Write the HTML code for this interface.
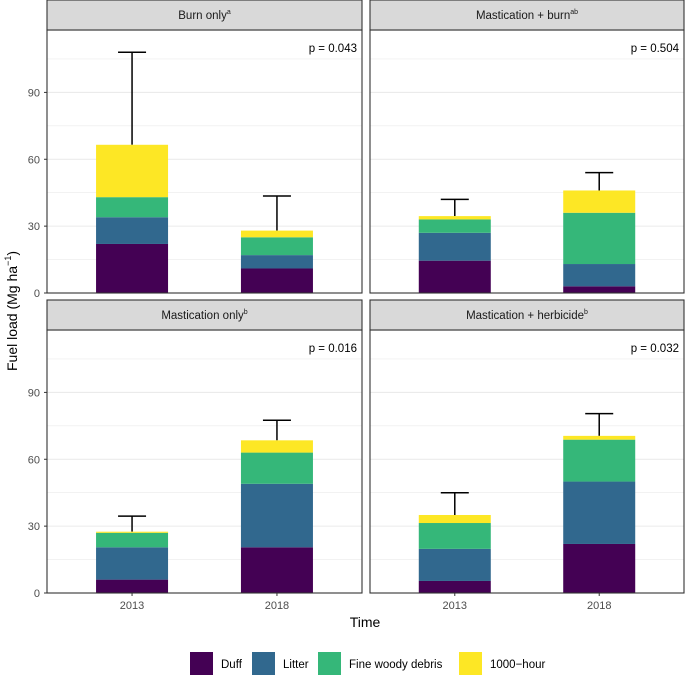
<!DOCTYPE html>
<html><head><meta charset="utf-8"><style>
body{margin:0;background:#fff}
svg{display:block;font-family:"Liberation Sans",Arial,sans-serif}
</style></head><body>
<svg id="c" width="685" height="685" viewBox="0 0 685 685"></svg>
<script>
const panels = ["Burn only","Mastication + burn","Mastication only","Mastication + herbicide"];
const panelSup = ["a","ab","b","b"];
const pValues = ["p = 0.043","p = 0.504","p = 0.016","p = 0.032"];
const years = ["2013","2018"];
const components = ["Duff","Litter","Fine woody debris","1000\u2212hour"];
const duff = [[22,11],[14.5,3],[6,20.5],[5.4,22]];
const litter = [[12,6],[12.5,10],[14.5,28.5],[14.4,28]];
const fwd = [[9,8],[6,23],[6.5,14],[11.6,18.8]];
const thousandHour = [[23.5,3],[1.5,10],[0.5,5.5],[3.6,1.7]];
const errTop = [[108,43.5],[42,54],[34.5,77.5],[45,80.5]];
const majorTicks = [0,30,60,90];
const minorTicks = [15,45,75,105];
const colors = ["#440154","#31688E","#35B779","#FDE725"];
const NS="http://www.w3.org/2000/svg";
const svg=document.getElementById('c');
function mk(t,a,p){const e=document.createElementNS(NS,t);for(const k in a)e.setAttribute(k,a[k]);(p||svg).appendChild(e);return e;}
const layout=[{x0:47,x1:362,s0:0,p0:30,p1:293},{x0:370,x1:684,s0:0,p0:30,p1:293},{x0:47,x1:362,s0:300,p0:330,p1:593},{x0:370,x1:684,s0:300,p0:330,p1:593}];
const yMax=118;
panels.forEach((name,i)=>{
  const L=layout[i];
  const g=mk('g',{});
  
  
  const y=v=>L.p1-v/yMax*(L.p1-L.p0);
  const xc=j=>L.x0+(L.x1-L.x0)*(j===0?0.27:0.73);
  minorTicks.forEach(t=>{const l=mk('line',{x1:L.x0,x2:L.x1,y1:y(t),y2:y(t),stroke:'#ebebeb','stroke-width':0.6},g);});
  majorTicks.forEach(t=>{const l=mk('line',{x1:L.x0,x2:L.x1,y1:y(t),y2:y(t),stroke:'#ebebeb','stroke-width':1.1},g);
    if(i%2===0){
    const tx=mk('text',{x:L.x0-7,y:y(t)+4,'text-anchor':'end','font-size':11,fill:'#4d4d4d'},g);tx.textContent=t;
    const tk=mk('line',{x1:L.x0-3,x2:L.x0,y1:y(t),y2:y(t),stroke:'#333','stroke-width':1},g);}});
  years.forEach((yr,j)=>{
    const vals=[duff[i][j],litter[i][j],fwd[i][j],thousandHour[i][j]];
    let cum=0;const bw=72;
    const tot=vals.reduce((a,b)=>a+b,0);
    const e=mk('line',{x1:xc(j),x2:xc(j),y1:y(tot),y2:y(errTop[i][j]),stroke:'#000','stroke-width':1.5},g);
    const cp=mk('line',{x1:xc(j)-14,x2:xc(j)+14,y1:y(errTop[i][j]),y2:y(errTop[i][j]),stroke:'#000','stroke-width':1.5},g);
    vals.forEach((v,k)=>{const r=mk('rect',{x:xc(j)-bw/2,y:y(cum+v),width:bw,height:y(cum)-y(cum+v),fill:colors[k]},g);
      cum+=v;});
    if(i>=2){const tk=mk('line',{x1:xc(j),x2:xc(j),y1:L.p1,y2:L.p1+3,stroke:'#333'},g);
      const tx=mk('text',{x:xc(j),y:L.p1+16,'text-anchor':'middle','font-size':11,fill:'#4d4d4d'},g);tx.textContent=yr;}
  });
  const b=mk('rect',{x:L.x0,y:L.p0,width:L.x1-L.x0,height:L.p1-L.p0,fill:'none',stroke:'#333','stroke-width':1.1},g);
  const s=mk('rect',{x:L.x0,y:L.s0,width:L.x1-L.x0,height:L.p0-L.s0,fill:'#d9d9d9',stroke:'#333','stroke-width':1.1},g);
  const st=mk('text',{x:(L.x0+L.x1)/2,y:L.s0+19,'text-anchor':'middle','font-size':11.5,fill:'#1a1a1a'},g);
  
  st.textContent=name;const sp=mk('tspan',{'font-size':7,dy:-5},st);sp.textContent=panelSup[i];
  const pt=mk('text',{x:L.x1-5,y:L.p0+22,'text-anchor':'end','font-size':11.5,fill:'#000'},g);pt.textContent=pValues[i];
});
const yt=mk('text',{x:0,y:0,transform:'translate(17,311) rotate(-90)','text-anchor':'middle','font-size':14,fill:'#000'});

yt.textContent='Fuel load (Mg ha';const ys=mk('tspan',{'font-size':9,dy:-6},yt);ys.textContent='\u22121';const ye=mk('tspan',{dy:6},yt);ye.textContent=')';
const xt=mk('text',{x:365,y:627,'text-anchor':'middle','font-size':14,fill:'#000'});xt.textContent='Time';

const lx=[190,252,318,459];
components.forEach((c,k)=>{
  const r=mk('rect',{x:lx[k],y:652,width:23,height:23,fill:colors[k]});
  const t=mk('text',{x:lx[k]+31,y:668,'font-size':11.5,fill:'#000'});t.textContent=c;
});
</script>
</body></html>
